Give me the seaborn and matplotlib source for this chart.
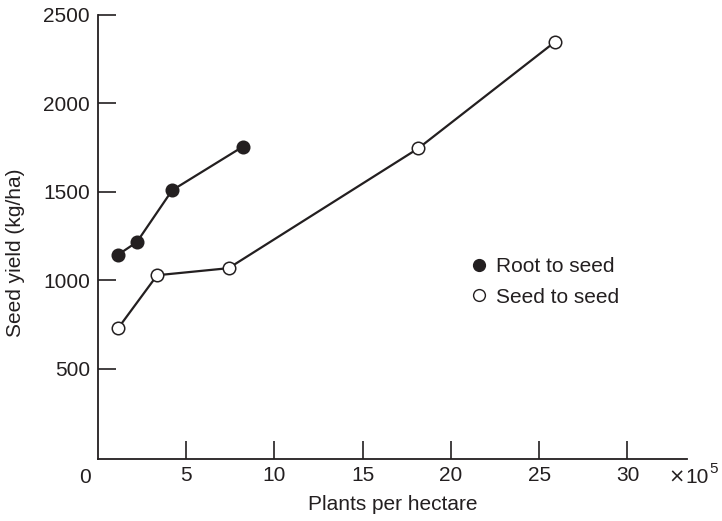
import matplotlib
matplotlib.use("Agg")
import matplotlib.pyplot as plt
import matplotlib.transforms as mtransforms
from matplotlib.lines import Line2D
import seaborn as sns
import pandas as pd

# Data (x in units of 10^5 plants per hectare, y in kg/ha)
root_x = [1.15, 2.2, 4.2, 8.2]
root_y = [1145, 1215, 1508, 1754]
seed_x = [1.15, 3.35, 7.4, 18.15, 25.9]
seed_y = [730, 1028, 1068, 1745, 2347]
series_labels = ["Root to seed", "Seed to seed"]
x_ticks = [5, 10, 15, 20, 25, 30]
y_ticks = [500, 1000, 1500, 2000, 2500]

sns.set_theme(style="white")
plt.rcParams["font.family"] = ["Liberation Sans", "DejaVu Sans"]

INK = "#231f20"
FS = 15

fig = plt.figure(figsize=(7.22, 5.21), dpi=100)
ax = fig.add_axes([98 / 722, 1 - 458.7 / 521, 589.5 / 722, (458.7 - 14.7) / 521])

root_df = pd.DataFrame({"x": root_x, "y": root_y})
seed_df = pd.DataFrame({"x": seed_x, "y": seed_y})

sns.lineplot(data=root_df, x="x", y="y", ax=ax, color=INK, lw=1.6,
             marker="o", ms=9, mfc=INK, mec=INK, mew=1.1, errorbar=None)
sns.lineplot(data=seed_df, x="x", y="y", ax=ax, color=INK, lw=1.6,
             marker="o", ms=9, mfc="white", mec=INK, mew=1.1, errorbar=None)

ax.set_xlim(0, 33.4)
ax.set_ylim(-8.5, 2500)
ax.set_xticks(x_ticks)
ax.set_yticks(y_ticks)
ax.set_xticklabels([str(v) for v in x_ticks])
ax.set_yticklabels([str(v) for v in y_ticks])
ax.tick_params(axis="both", which="major", direction="in", length=13, width=1.2,
               color=INK, labelsize=FS, labelcolor=INK,
               bottom=True, left=True, top=False, right=False)
ax.tick_params(axis="y", pad=5.8)
ax.tick_params(axis="x", pad=5.5)

for side in ["top", "right"]:
    ax.spines[side].set_visible(False)
for side in ["left", "bottom"]:
    ax.spines[side].set_color(INK)
    ax.spines[side].set_linewidth(1.3)

ax.set_xlabel("")
ax.set_ylabel("")

# Corner "0" label and exponent
trans = mtransforms.blended_transform_factory(ax.transData, ax.transAxes)


def off(dx, dy):
    return mtransforms.offset_copy(trans, fig=fig, x=dx, y=dy, units="dots")


ax.text(-0.72, 0, "0", transform=off(0, -24), ha="center", va="baseline",
        fontsize=FS, color=INK)
ax.text(32.4, 0, "×", transform=off(7, -24), ha="center", va="baseline",
        fontsize=14, color=INK, family="DejaVu Sans")
ax.text(32.4, 0, "10", transform=off(16, -24), ha="left", va="baseline",
        fontsize=FS, color=INK)
ax.text(32.4, 0, "5", transform=off(39.5, -14), ha="left", va="baseline",
        fontsize=11, color=INK)

fig.text(393 / 722, 1 - 505 / 521, "Plants per hectare", ha="center", va="center",
         fontsize=FS, color=INK)
fig.text(16 / 722, 1 - 253 / 521, "Seed yield (kg/ha)", ha="center", va="center",
         rotation=90, fontsize=FS, color=INK)

handles = [
    Line2D([], [], ls="none", marker="o", ms=8.5, mfc=INK, mec=INK, mew=1.0),
    Line2D([], [], ls="none", marker="o", ms=8.5, mfc="white", mec=INK, mew=1.0),
]
leg = ax.legend(handles, series_labels, loc="center left",
                bbox_to_anchor=(462 / 722, 1 - 282 / 521),
                bbox_transform=fig.transFigure, frameon=False, fontsize=FS,
                handlelength=0.8, handletextpad=0.42, labelspacing=0.55,
                borderaxespad=0, borderpad=0.4)
for t in leg.get_texts():
    t.set_color(INK)

fig.savefig("out.png", dpi=100)
